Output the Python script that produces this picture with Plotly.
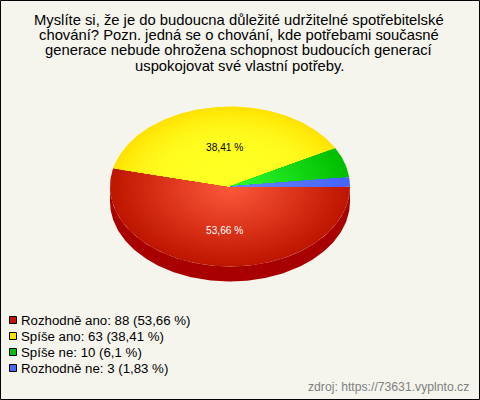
import numpy as np
import plotly.graph_objects as go

categories = ["Rozhodně ano", "Spíše ano", "Spíše ne", "Rozhodně ne"]
counts = [88, 63, 10, 3]
percent_labels = ["53,66 %", "38,41 %", "6,1 %", "1,83 %"]
title_lines = [
    "Myslíte si, že je do budoucna důležité udržitelné spotřebitelské",
    "chování? Pozn. jedná se o chování, kde potřebami současné",
    "generace nebude ohrožena schopnost budoucích generací",
    "uspokojovat své vlastní potřeby.",
]
source_text = "zdroj: https://73631.vyplnto.cz"

W, H = 480, 400
BG = "#f5f5ee"
CX, CY, RX, RY, DEPTH = 230, 186.5, 120, 80, 15
STEPS = 40
edge_rgb = {"Rozhodně ano": (190, 22, 0), "Spíše ano": (255, 226, 0),
            "Spíše ne": (0, 190, 0), "Rozhodně ne": (70, 100, 255)}
centre_rgb = {"Rozhodně ano": (255, 90, 60), "Spíše ano": (255, 255, 35),
              "Spíše ne": (50, 255, 50), "Rozhodně ne": (105, 135, 255)}
falloff = {"Rozhodně ano": 1.0, "Spíše ano": 4.0, "Spíše ne": 1.0, "Rozhodně ne": 1.0}
side_colour = "#a80000"
legend_colour = {"Rozhodně ano": "#c01800", "Spíše ano": "#ffe000",
                 "Spíše ne": "#00c000", "Rozhodně ne": "#4668ff"}

fig = go.Figure()


def poly(xs, ys, colour, name):
    fig.add_trace(go.Scatter(x=xs, y=ys, mode="lines", fill="toself", fillcolor=colour,
                             line=dict(width=0), hoverinfo="skip", showlegend=False, name=name))


# Slices run counter-clockwise from the east point, last category first
total = sum(counts)
fractions = [c / total for c in counts]
bounds = {}
start = 0.0
for cat, frac in zip(categories[::-1], fractions[::-1]):
    bounds[cat] = (start, start + frac * 2 * np.pi)
    start += frac * 2 * np.pi

# Extruded wall of the front half
t = np.linspace(np.pi, 2 * np.pi, 181)
wall_x = CX + RX * np.cos(t)
wall_y = CY - RY * np.sin(t)
poly(np.r_[wall_x, wall_x[::-1]], np.r_[wall_y, wall_y[::-1] + DEPTH], side_colour, "side")

# Top face, with a radial gradient built from nested wedges
for cat in categories:
    a0, a1 = bounds[cat]
    a = np.linspace(a0, a1, max(8, int((a1 - a0) * 60)))
    for i in range(STEPS):
        k = 1 - i / STEPS
        rgb = [round(c + (e - c) * k ** falloff[cat]) for c, e in zip(centre_rgb[cat], edge_rgb[cat])]
        poly(np.r_[CX, CX + k * RX * np.cos(a), CX],
             np.r_[CY, CY - k * RY * np.sin(a), CY],
             "rgb(%d,%d,%d)" % tuple(rgb), cat)

# Legend swatches
legend_y = [320, 336, 352, 368]
fig.add_trace(go.Scatter(
    x=[13] * 4, y=legend_y, mode="markers", hoverinfo="skip", showlegend=False,
    marker=dict(symbol="square", size=7, color=[legend_colour[c] for c in categories],
                line=dict(color="#000000", width=1))))

annotations = []


def label(x, y, text, size, colour="#000000", anchor="center"):
    annotations.append(dict(x=x, y=y, xref="x", yref="y", text=text, showarrow=False,
                            xanchor=anchor, yanchor="middle", borderpad=0,
                            font=dict(family="Liberation Sans", size=size, color=colour)))


for text, y in zip(title_lines, [20, 35, 50, 66]):
    label(239, y, text, 14.8)
label(224, 147, percent_labels[1], 10.2, "#000000")
label(224.5, 230, percent_labels[0], 10.2, "#ffffff")
for cat, n, p, y in zip(categories, counts, percent_labels, legend_y):
    label(20, y, f"{cat}: {n} ({p})", 13.25, "#000000", "left")
label(470, 387, source_text, 12.2, "#808080", "right")
fig.update_layout(
    width=W, height=H, margin=dict(l=0, r=0, t=0, b=0),
    paper_bgcolor=BG, plot_bgcolor=BG, annotations=annotations, showlegend=False,
    xaxis=dict(range=[0, W], visible=False, fixedrange=True),
    yaxis=dict(range=[H, 0], visible=False, fixedrange=True),
    shapes=[dict(type="rect", xref="x", yref="y", x0=0.5, y0=0.5, x1=W - 0.5, y1=H - 0.5,
                 line=dict(color="#000000", width=1), fillcolor="rgba(0,0,0,0)")],
)
fig.write_html("out.html", config=dict(displayModeBar=False),
               post_script="document.body.style.margin='0';document.documentElement.style.overflow='hidden';")
